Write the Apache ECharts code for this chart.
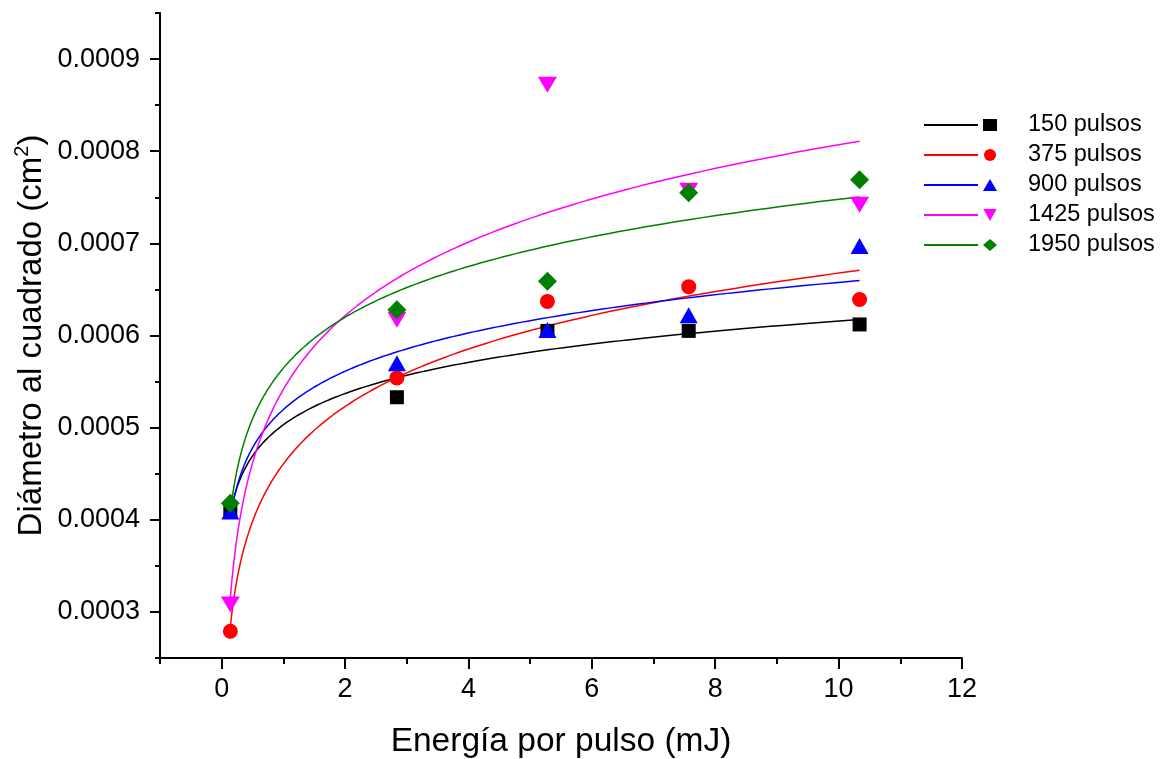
<!DOCTYPE html>
<html>
<head>
<meta charset="utf-8">
<script src="https://cdn.jsdelivr.net/npm/echarts@6/dist/echarts.min.js"></script>
<style>
  html, body { margin: 0; padding: 0; background: #fff; }
  #chart { width: 1167px; height: 759px; }
</style>
</head>
<body>
<div id="chart"></div>
<script>
// Energy per pulse (mJ) for each measurement
const energia = [0.14, 2.84, 5.28, 7.57, 10.34];

// Squared crater diameter (cm^2) for each pulse count
const p150  = [0.000410, 0.000533, 0.000605, 0.000605, 0.000612];
const p375  = [0.000279, 0.000554, 0.000637, 0.000653, 0.000639];
const p900  = [0.000409, 0.000570, 0.000606, 0.000622, 0.000697];
const p1425 = [0.000308, 0.000617, 0.000872, 0.000757, 0.000742];
const p1950 = [0.000418, 0.000628, 0.000659, 0.000755, 0.000769];

const seriesNames = ['150 pulsos', '375 pulsos', '900 pulsos', '1425 pulsos', '1950 pulsos'];
const seriesData = [p150, p375, p900, p1425, p1950];
const colors = ['#000000', '#ff0000', '#0000ff', '#ff00ff', '#007f00'];
const symbols = ['rect', 'circle', 'triangle', 'path://M0,0L10,0L5,9Z', 'diamond'];
const symbolSizes = [[14, 14], [15, 15], [18, 16], [19, 16], [19, 19]];

// Axis ticks
const xMajorTicks = [0, 2, 4, 6, 8, 10, 12];
const yMajorTicks = [0.0003, 0.0004, 0.0005, 0.0006, 0.0007, 0.0008, 0.0009];

// Least-squares fit y = a + b*ln(x) through each series
function logFit(xs, ys) {
  const lx = xs.map(Math.log);
  const n = xs.length;
  const mx = lx.reduce((s, v) => s + v, 0) / n;
  const my = ys.reduce((s, v) => s + v, 0) / n;
  let sxy = 0, sxx = 0;
  for (let i = 0; i < n; i++) {
    sxy += (lx[i] - mx) * (ys[i] - my);
    sxx += (lx[i] - mx) * (lx[i] - mx);
  }
  const b = sxy / sxx;
  return { a: my - b * mx, b: b };
}

// Curve samples of the fit between the first and last energy (log-spaced)
function fitCurve(xs, ys) {
  const f = logFit(xs, ys);
  const x0 = Math.min(...xs), x1 = Math.max(...xs);
  const pts = [];
  const N = 200;
  for (let i = 0; i <= N; i++) {
    const x = x0 * Math.pow(x1 / x0, i / N);
    pts.push([x, f.a + f.b * Math.log(x)]);
  }
  return pts;
}

const FONT = 'Liberation Sans, Arial, sans-serif';

const series = [];
seriesNames.forEach((name, i) => {
  series.push({
    name: name + ' ajuste',
    type: 'line',
    data: fitCurve(energia, seriesData[i]),
    symbol: 'none',
    smooth: false,
    lineStyle: { color: colors[i], width: 1.5 },
    itemStyle: { color: colors[i] },
    z: 2,
    silent: true
  });
});
seriesNames.forEach((name, i) => {
  series.push({
    name: name,
    type: 'scatter',
    data: energia.map((x, k) => [x, seriesData[i][k]]),
    symbol: symbols[i],
    symbolSize: symbolSizes[i],
    itemStyle: { color: colors[i], opacity: 1 },
    z: 3 + i
  });
});

const chart = echarts.init(document.getElementById('chart'), null, { renderer: 'canvas' });

const axisLineStyle = { color: '#000', width: 2 };

chart.setOption({
  animation: false,
  backgroundColor: '#ffffff',
  grid: { left: 160, right: 205, top: 13, bottom: 101, containLabel: false, outerBoundsMode: 'none' },
  legend: [
    {
      // fit line samples (line only, no marker)
      data: seriesNames.map(n => n + ' ajuste'),
      orient: 'vertical',
      left: 918,
      top: 105,
      itemWidth: 54,
      itemHeight: 12,
      itemGap: 0,
      itemStyle: { opacity: 0 },
      formatter: () => ' ',
      textStyle: { fontFamily: FONT, fontSize: 23.5, lineHeight: 30 },
      selectedMode: false
    },
    {
      // point markers with labels
      data: seriesNames,
      orient: 'vertical',
      left: 978,
      top: 105,
      itemWidth: 14,
      itemHeight: 12,
      itemGap: 0,
      formatter: n => '{g|}' + n,
      textStyle: {
        fontFamily: FONT, fontSize: 23.5, lineHeight: 30, color: '#000',
        rich: { g: { width: 26 } }
      },
      selectedMode: false
    }
  ],
  xAxis: [
    {
      type: 'value',
      min: -1, max: 12, interval: 1,
      position: 'bottom',
      name: 'Energía por pulso (mJ)',
      nameLocation: 'middle',
      nameGap: 67,
      nameTextStyle: { fontFamily: FONT, fontSize: 33.5, color: '#000' },
      axisLine: { show: true, onZero: false, lineStyle: axisLineStyle },
      axisTick: { show: true, inside: false, length: 6, lineStyle: axisLineStyle },
      axisLabel: {
        customValues: xMajorTicks,
        margin: 18,
        fontFamily: FONT, fontSize: 27, color: '#000',
        formatter: v => String(v)
      },
      splitLine: { show: false }
    },
    {
      // longer ticks at labelled values
      type: 'value',
      min: -1, max: 12, interval: 1,
      position: 'bottom',
      axisLine: { show: false, onZero: false },
      axisTick: { show: true, inside: false, length: 11, customValues: xMajorTicks, lineStyle: axisLineStyle },
      axisLabel: { show: false },
      splitLine: { show: false }
    }
  ],
  yAxis: [
    {
      type: 'value',
      min: 0.00025, max: 0.00095, interval: 0.00005,
      position: 'left',
      name: 'Diámetro al cuadrado (cm{sup|2})',
      nameLocation: 'middle',
      nameGap: 108,
      nameMoveOverlap: false,
      nameRotate: 90,
      nameTextStyle: {
        fontFamily: FONT, fontSize: 33, color: '#000', lineHeight: 40,
        rich: { sup: { fontFamily: FONT, fontSize: 20, color: '#000', verticalAlign: 'top', lineHeight: 40, padding: [0, 0, 12, 0] } }
      },
      axisLine: { show: true, onZero: false, lineStyle: axisLineStyle },
      axisTick: { show: true, inside: false, length: 5, lineStyle: axisLineStyle },
      axisLabel: {
        customValues: yMajorTicks,
        margin: 20,
        fontFamily: FONT, fontSize: 27, color: '#000',
        formatter: v => v.toFixed(4)
      },
      splitLine: { show: false }
    },
    {
      // longer ticks at labelled values
      type: 'value',
      min: 0.00025, max: 0.00095, interval: 0.00005,
      position: 'left',
      axisLine: { show: false, onZero: false },
      axisTick: { show: true, inside: false, length: 10, customValues: yMajorTicks, lineStyle: axisLineStyle },
      axisLabel: { show: false },
      splitLine: { show: false }
    }
  ],
  series: series
});
</script>
</body>
</html>
